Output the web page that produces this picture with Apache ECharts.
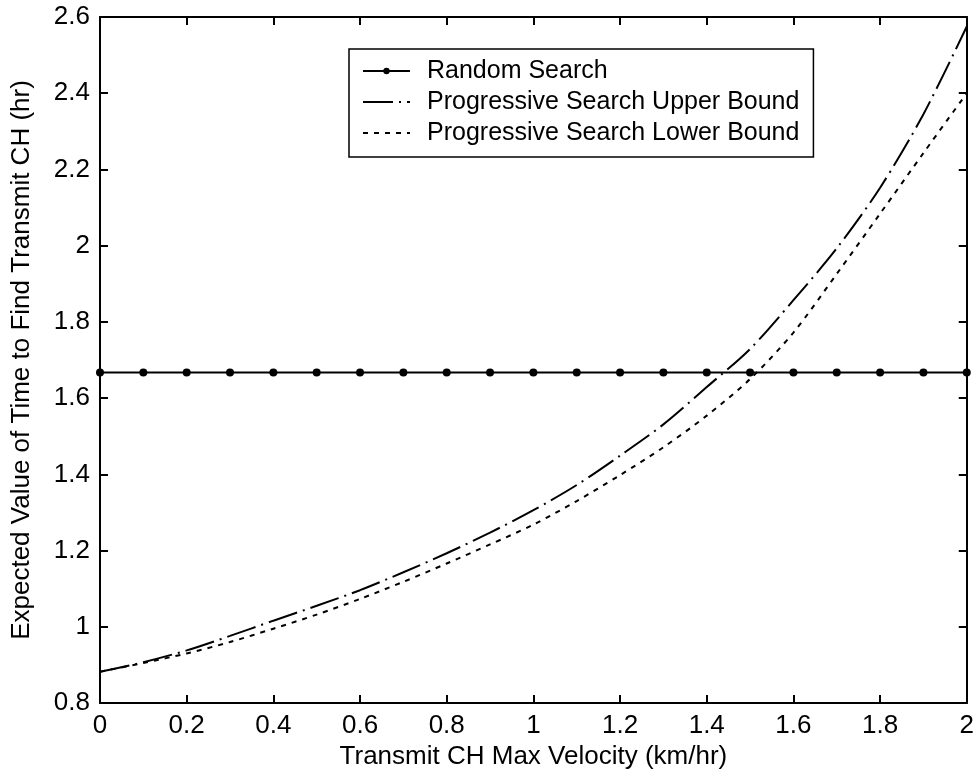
<!DOCTYPE html>
<html><head><meta charset="utf-8">
<script src="https://cdn.jsdelivr.net/npm/echarts@6/dist/echarts.min.js"></script>
<style>html,body{margin:0;padding:0;background:#fff}#c{width:977px;height:776px}</style>
</head><body><div id="c"></div>
<script>
const velocity = [0,0.1,0.2,0.3,0.4,0.5,0.6,0.7,0.8,0.9,1.0,1.1,1.2,1.3,1.4,1.5,1.6,1.7,1.8,1.9,2.0];
const randomSearch = [1.667,1.667,1.667,1.667,1.667,1.667,1.667,1.667,1.667,1.667,1.667,1.667,1.667,1.667,1.667,1.667,1.667,1.667,1.667,1.667,1.667];
const upperBound = [0.882,0.907,0.938,0.976,1.016,1.055,1.096,1.143,1.193,1.247,1.306,1.372,1.449,1.531,1.629,1.729,1.857,1.993,2.152,2.345,2.575];
const lowerBound = [0.882,0.905,0.930,0.960,0.995,1.032,1.073,1.118,1.166,1.216,1.268,1.330,1.398,1.471,1.554,1.650,1.772,1.926,2.084,2.243,2.400];
const seriesNames = ['Random Search','Progressive Search Upper Bound','Progressive Search Lower Bound'];
const xTitle = 'Transmit CH Max Velocity (km/hr)';
const yTitle = 'Expected Value of Time to Find Transmit CH (hr)';

const FONT = '"Liberation Sans", Arial, sans-serif';
const pairs = arr => velocity.map((v,i)=>[v, arr[i]]);
const axisLine = {show:true, onZero:false, lineStyle:{color:'#000', width:2}};
const axisTick = {show:true, inside:true, length:8, lineStyle:{color:'#000', width:2}};
const lbl = {color:'#000', fontSize:26, fontFamily:FONT};
const noDot = {color:'rgba(0,0,0,0)', borderWidth:0};

const chart = echarts.init(document.getElementById('c'), null, {renderer:'canvas'});
chart.setOption({
  backgroundColor:'#fff',
  animation:false,
  grid:{left:100, right:10, top:17, bottom:73, containLabel:false},
  legend:{
    orient:'vertical', left:349, top:49,
    padding:[9,14,11,13], itemWidth:47, itemHeight:8, itemGap:5,
    borderColor:'#000', borderWidth:1.5, backgroundColor:'#fff',
    selectedMode:false,
    textStyle:{fontSize:25, fontFamily:FONT, color:'#000', lineHeight:26, padding:[0,0,0,12]},
    data:[
      {name:seriesNames[0]},
      {name:seriesNames[1], itemStyle:noDot},
      {name:seriesNames[2], itemStyle:noDot}
    ]
  },
  xAxis:[
    {type:'value', min:0, max:2, interval:0.2, position:'bottom',
     axisLine, axisTick, splitLine:{show:false},
     axisLabel:Object.assign({margin:10}, lbl),
     name:xTitle, nameLocation:'middle', nameGap:37, nameTextStyle:lbl},
    {type:'value', min:0, max:2, interval:0.2, position:'top',
     axisLine, axisTick, splitLine:{show:false}, axisLabel:{show:false}}
  ],
  yAxis:[
    {type:'value', min:0.8, max:2.6, interval:0.2, position:'left',
     axisLine, axisTick, splitLine:{show:false},
     axisLabel:Object.assign({margin:10}, lbl),
     name:yTitle, nameLocation:'middle', nameGap:65, nameRotate:90, nameTextStyle:lbl},
    {type:'value', min:0.8, max:2.6, interval:0.2, position:'right',
     axisLine, axisTick, splitLine:{show:false}, axisLabel:{show:false}}
  ],
  series:[
    {name:seriesNames[0], type:'line', data:pairs(randomSearch),
     symbol:'circle', symbolSize:8, showSymbol:true,
     itemStyle:{color:'#000'}, lineStyle:{color:'#000', width:2}, z:3},
    {name:seriesNames[1], type:'line', data:pairs(upperBound), smooth:0.3,
     symbol:'none', itemStyle:{color:'#000'},
     lineStyle:{color:'#000', width:2, type:[30,6,2,6]}},
    {name:seriesNames[2], type:'line', data:pairs(lowerBound), smooth:0.3,
     symbol:'none', itemStyle:{color:'#000'},
     lineStyle:{color:'#000', width:2, type:[5,6]}}
  ]
});
</script></body></html>
